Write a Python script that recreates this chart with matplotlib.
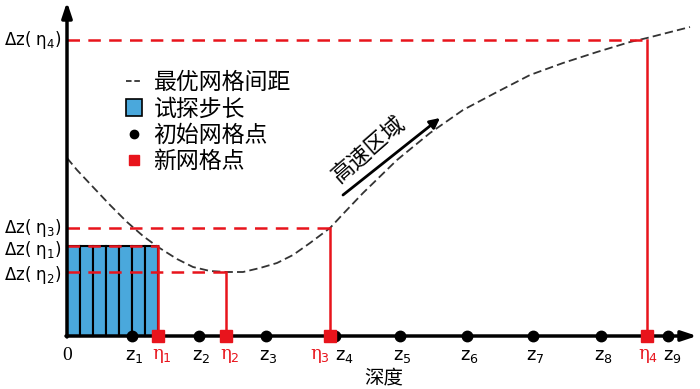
import matplotlib
matplotlib.use("Agg")
import matplotlib.pyplot as plt
from matplotlib.lines import Line2D
from matplotlib.patches import Patch

plt.rcParams['font.family'] = ['Noto Sans CJK SC', 'DejaVu Sans']
plt.rcParams['lines.scale_dashes'] = False
plt.rcParams['mathtext.fontset'] = 'dejavusans'

# ---- data ----
z_depth = [65, 132, 199, 268, 333, 400, 466, 534, 601]
z_labels = ['z$_1$', 'z$_2$', 'z$_3$', 'z$_4$', 'z$_5$', 'z$_6$', 'z$_7$', 'z$_8$', 'z$_9$']
eta_depth = [91, 159, 263, 580]
eta_dz = [90, 64, 108, 296]
eta_labels = ['η$_1$', 'η$_2$', 'η$_3$', 'η$_4$']
dz_labels = ['Δz( η$_1$)', 'Δz( η$_2$)', 'Δz( η$_3$)', 'Δz( η$_4$)']
curve_x = [0, 10, 26, 43, 60, 76, 91, 110, 126, 143, 160, 176, 193, 210, 226, 243, 263,
           276, 296, 330, 363, 396, 430, 463, 496, 530, 563, 580, 623]
curve_y = [178, 166, 149, 131, 114, 100, 89, 77, 69, 65, 64, 64, 68, 73, 81, 93, 108,
           122, 143, 176, 203, 226, 244, 261, 273, 284, 294, 298, 309]
trial_left = [0, 13, 26, 39, 52, 65, 78]
trial_width = 13
trial_height = 90

# label placement offsets (styling only)
z_label_dx = [2, 2, 2, 9, 2, 2, 2, 2, 4]
eta_label_dx = [4, 4, -10, 1]
dz_label_dy = [-4, -3, 0, 0]

RED = '#e8141c'
BLUE = '#4aa8dc'

fig = plt.figure(figsize=(7, 3.89), dpi=100)
ax = fig.add_axes([0, 0, 1, 1])
ax.set_xlim(-67, 633)
ax.set_ylim(-53, 336)
ax.axis('off')

# trial step bars
ax.bar(trial_left, [trial_height] * len(trial_left), width=trial_width, align='edge',
       color=BLUE, edgecolor='black', linewidth=1.5, zorder=2)

# optimal spacing curve
ax.plot(curve_x, curve_y, color='#333333', lw=1.3, dashes=(6, 3), zorder=3)

# red dashed horizontals and vertical lines
for xd, yd in zip(eta_depth, eta_dz):
    ax.plot([0, xd], [yd, yd], color=RED, lw=1.8, dashes=(9, 6), zorder=4)
    ax.plot([xd, xd], [0, yd], color=RED, lw=1.8, zorder=4)

# axes with arrows
ax.annotate('', xy=(0, 334), xytext=(0, -1),
            arrowprops=dict(arrowstyle='-|>,head_length=0.9,head_width=0.3', color='black', lw=2.5,
                            shrinkA=0, shrinkB=0), zorder=5)
ax.annotate('', xy=(630, 0), xytext=(-1, 0),
            arrowprops=dict(arrowstyle='-|>,head_length=0.9,head_width=0.3', color='black', lw=2.5,
                            shrinkA=0, shrinkB=0), zorder=5)

# grid points
ax.plot(z_depth, [0] * len(z_depth), 'o', color='black', ms=7.5, zorder=6, clip_on=False)
ax.plot(eta_depth, [0] * len(eta_depth), 's', color=RED, ms=9, zorder=7, clip_on=False)

# labels
for xd, dx, lab in zip(z_depth, z_label_dx, z_labels):
    ax.text(xd + dx, -20, lab, ha='center', va='center', fontsize=13, family='DejaVu Sans')
for xd, dx, lab in zip(eta_depth, eta_label_dx, eta_labels):
    ax.text(xd + dx, -20, lab, ha='center', va='center', fontsize=13, color=RED, family='DejaVu Serif')
ax.text(0, -20, '0', ha='center', va='center', fontsize=14, family='Liberation Serif')
for yd, dy, lab in zip(eta_dz, dz_label_dy, dz_labels):
    ax.text(-5, yd + dy, lab, ha='right', va='center', fontsize=12, family='DejaVu Sans')

ax.text(317, -42, '深度', ha='center', va='center', fontsize=14)

# high speed region
ax.annotate('', xy=(373, 218), xytext=(276, 141),
            arrowprops=dict(arrowstyle='-|>,head_length=0.6,head_width=0.3', color='black', lw=2,
                            shrinkA=0, shrinkB=0))
ax.text(301, 187, '高速区域', ha='center', va='center', rotation=41, rotation_mode='anchor', fontsize=16)

# legend
handles = [
    Line2D([], [], color='#333333', lw=1.3, dashes=(4, 2)),
    Patch(facecolor=BLUE, edgecolor='black', linewidth=1.2),
    Line2D([], [], marker='o', color='black', ls='none', ms=6),
    Line2D([], [], marker='s', color=RED, ls='none', ms=7),
]
labels = ['最优网格间距', '试探步长', '初始网格点', '新网格点']
ax.legend(handles, labels, loc='upper left', bbox_to_anchor=(126 / 700, 1 - 71 / 389),
          frameon=False, fontsize=16.5, handlelength=0.7, handleheight=0.8,
          handletextpad=0.5, labelspacing=0.15, borderaxespad=0, borderpad=0)

fig.savefig('out.png', dpi=100)
